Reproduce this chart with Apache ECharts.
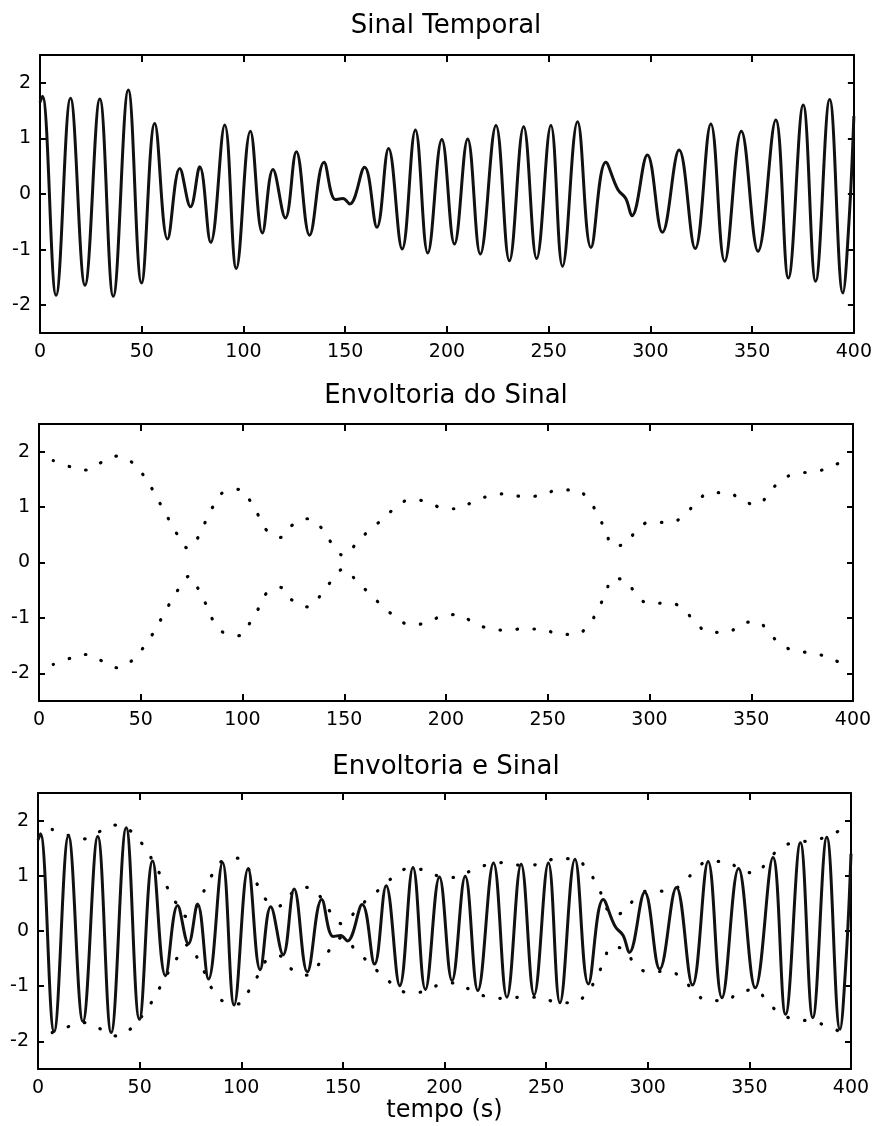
<!DOCTYPE html>
<html><head><meta charset="utf-8">
<script src="https://cdn.jsdelivr.net/npm/echarts@6/dist/echarts.min.js"></script>
<style>html,body{margin:0;padding:0;background:#fff}#c{width:875px;height:1126px}</style>
</head><body><div id="c"></div>
<script>
const titles = ['Sinal Temporal', 'Envoltoria do Sinal', 'Envoltoria e Sinal'];
const xLabel = 'tempo (s)';
const yTicks = [-2, -1, 0, 1, 2];

const signalT = [0, 1.2, 7.9, 15.0, 22.1, 29.4, 36.0, 43.4, 49.9, 56.4, 62.7, 68.7, 74.0, 78.5, 83.9, 90.8, 96.5, 103.4, 109.3, 114.5, 120.6, 126.0, 132.5, 139.6, 145.2, 148.9, 152.2, 159.5, 165.6, 171.3, 178.0, 184.5, 190.6, 197.5, 203.7, 210.2, 216.4, 224.1, 230.7, 237.7, 244.1, 251.1, 256.8, 264.2, 270.8, 278.1, 284.0, 287.9, 290.9, 298.5, 305.9, 314.1, 322.0, 329.7, 336.5, 344.7, 352.9, 361.6, 367.8, 375.1, 381.2, 388.1, 394.6, 397.6, 400];
const signalV = [1.65, 1.76, -1.82, 1.72, -1.64, 1.71, -1.84, 1.87, -1.60, 1.27, -0.81, 0.46, -0.23, 0.49, -0.87, 1.24, -1.34, 1.13, -0.70, 0.44, -0.43, 0.76, -0.74, 0.57, -0.10, -0.08, -0.18, 0.48, -0.60, 0.82, -0.99, 1.15, -1.06, 0.98, -0.90, 0.99, -1.08, 1.23, -1.20, 1.21, -1.16, 1.23, -1.30, 1.30, -0.96, 0.57, 0.08, -0.08, -0.39, 0.70, -0.69, 0.79, -0.98, 1.26, -1.21, 1.13, -1.03, 1.33, -1.51, 1.60, -1.57, 1.70, -1.78, -0.5, 1.4];

const upperT = [7.0, 15.2, 23.4, 30.8, 38.5, 46.0, 51.6, 56.2, 60.0, 63.9, 68.1, 73.4, 78.6, 82.1, 85.7, 90.9, 98.3, 104.0, 108.1, 111.9, 118.1, 124.3, 131.9, 139.2, 143.8, 149.9, 156.1, 162.2, 168.9, 175.3, 182.8, 190.5, 197.9, 206.0, 213.4, 221.3, 229.8, 238.0, 247.0, 255.2, 263.4, 270.3, 274.8, 278.5, 282.2, 288.8, 293.7, 301.4, 309.6, 317.1, 323.2, 330.2, 338.4, 345.6, 353.0, 358.9, 365.4, 373.1, 381.3, 389.2, 396.9];
const upperV = [1.84, 1.73, 1.67, 1.81, 1.92, 1.80, 1.56, 1.29, 1.03, 0.77, 0.50, 0.26, 0.48, 0.76, 1.02, 1.27, 1.32, 1.10, 0.83, 0.58, 0.45, 0.67, 0.79, 0.61, 0.35, 0.13, 0.35, 0.58, 0.78, 0.99, 1.13, 1.10, 0.99, 0.97, 1.10, 1.20, 1.24, 1.19, 1.21, 1.31, 1.31, 1.11, 0.84, 0.57, 0.30, 0.35, 0.59, 0.73, 0.72, 0.86, 1.09, 1.26, 1.26, 1.11, 1.05, 1.27, 1.50, 1.61, 1.64, 1.73, 1.87];

const lowerT = [7.0, 15.2, 23.8, 31.1, 38.5, 46.0, 51.6, 56.2, 60.3, 64.4, 68.8, 73.9, 78.6, 82.1, 85.7, 91.7, 98.4, 104.0, 108.3, 112.2, 118.4, 124.7, 131.9, 138.9, 143.8, 149.9, 156.4, 162.7, 168.9, 175.3, 182.8, 190.5, 197.9, 206.0, 213.3, 221.3, 229.7, 237.9, 246.9, 255.1, 263.3, 270.2, 274.6, 278.4, 282.2, 288.8, 293.7, 301.1, 309.3, 317.0, 322.7, 330.2, 337.9, 345.6, 352.6, 358.9, 365.4, 373.1, 381.3, 389.2, 396.9];
const lowerV = [-1.84, -1.73, -1.66, -1.78, -1.90, -1.76, -1.52, -1.27, -1.00, -0.73, -0.47, -0.25, -0.50, -0.76, -1.05, -1.28, -1.32, -1.07, -0.80, -0.54, -0.45, -0.69, -0.80, -0.57, -0.33, -0.12, -0.35, -0.57, -0.79, -0.98, -1.12, -1.09, -0.97, -0.94, -1.08, -1.19, -1.22, -1.20, -1.20, -1.29, -1.30, -1.11, -0.85, -0.56, -0.29, -0.34, -0.60, -0.74, -0.73, -0.86, -1.09, -1.26, -1.26, -1.10, -1.07, -1.28, -1.50, -1.60, -1.64, -1.74, -1.86];

const pair = (ts, vs) => ts.map((t, i) => [t, vs[i]]);
const signal = pair(signalT, signalV);
const upper = pair(upperT, upperV);
const lower = pair(lowerT, lowerV);

const FONT = 'DejaVu Sans';
const grids = [
  { left: 40, top: 55, width: 815, height: 278 },
  { left: 39, top: 424, width: 814, height: 277 },
  { left: 38, top: 793, width: 813, height: 276 }
];
const titleTops = [13, 383, 754];

const axisLine = { show: true, onZero: false, lineStyle: { color: '#000', width: 2 } };
const xAxes = [], yAxes = [];
grids.forEach((g, i) => {
  const base = {
    type: 'value', gridIndex: i, min: 0, max: 400, interval: 50,
    axisLine, splitLine: { show: false },
    axisTick: { show: true, inside: true, length: 7, lineStyle: { color: '#000', width: 2 } }
  };
  const bottom = Object.assign({}, base, {
    position: 'bottom',
    axisLabel: { show: true, color: '#000', fontFamily: FONT, fontSize: 19, margin: 10, showMinLabel: true, showMaxLabel: true }
  });
  if (i === 2) {
    Object.assign(bottom, {
      name: xLabel, nameLocation: 'middle', nameGap: 26,
      nameTextStyle: { color: '#000', fontFamily: FONT, fontSize: 24 }
    });
  }
  xAxes.push(bottom);
  xAxes.push(Object.assign({}, base, { position: 'top', axisLabel: { show: false } }));
  const ybase = {
    type: 'value', gridIndex: i, min: -2.5, max: 2.5,
    axisLine, splitLine: { show: false },
    axisTick: { show: true, inside: true, length: 6, customValues: yTicks, lineStyle: { color: '#000', width: 2 } }
  };
  yAxes.push(Object.assign({}, ybase, {
    position: 'left',
    axisLabel: { show: true, customValues: yTicks, color: '#000', fontFamily: FONT, fontSize: 19, margin: 9 }
  }));
  yAxes.push(Object.assign({}, ybase, { position: 'right', axisLabel: { show: false } }));
});

const sigStyle = { color: '#111', width: 3 };
const envStyle = { color: '#000', width: 3.2, type: [0.5, 16.5], cap: 'round' };
const mk = (g, data, style, smooth) => ({
  type: 'line', xAxisIndex: 2 * g, yAxisIndex: 2 * g, data, showSymbol: false, symbol: 'none',
  smooth, lineStyle: style, silent: true
});

const series = [
  mk(0, signal, sigStyle, 0.4),
  mk(1, upper, envStyle, 0.5),
  mk(1, lower, envStyle, 0.5),
  mk(2, upper, envStyle, 0.5),
  mk(2, lower, envStyle, 0.5),
  mk(2, signal, sigStyle, 0.4)
];

const chart = echarts.init(document.getElementById('c'), null, { renderer: 'canvas' });
chart.setOption({
  animation: false,
  backgroundColor: '#fff',
  title: titles.map((t, i) => ({
    text: t, left: 446, top: titleTops[i], textAlign: 'center', padding: 0,
    textStyle: { color: '#000', fontFamily: FONT, fontSize: 26, fontWeight: 'normal' }
  })),
  grid: grids,
  xAxis: xAxes,
  yAxis: yAxes,
  series
});
</script>
</body></html>
